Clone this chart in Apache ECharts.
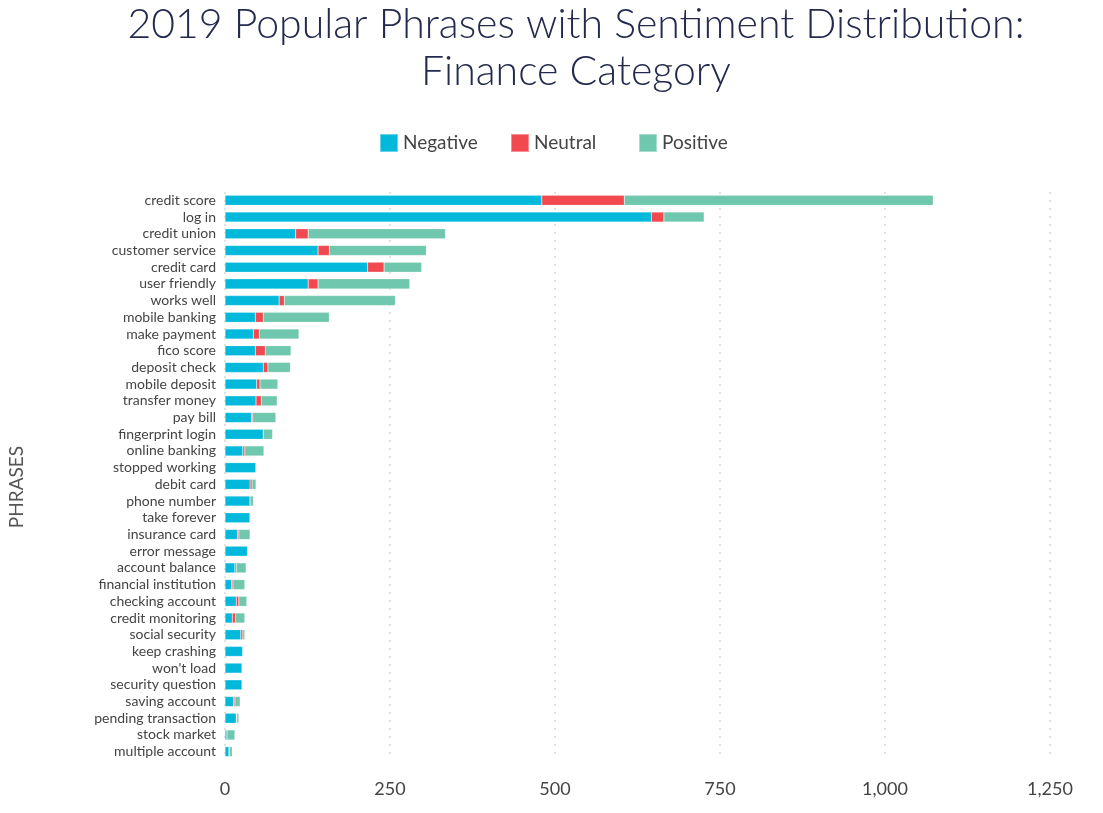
<!DOCTYPE html>
<html>
<head>
<meta charset="utf-8">
<script src="https://cdn.jsdelivr.net/npm/echarts@6/dist/echarts.min.js"></script>
<style>
  html, body { margin: 0; padding: 0; background: #fff; }
  #container { width: 1103px; height: 813px; }
</style>
</head>
<body>
<div id="container"></div>
<script>
var phrases = ['credit score', 'log in', 'credit union', 'customer service', 'credit card',
    'user friendly', 'works well', 'mobile banking', 'make payment', 'fico score',
    'deposit check', 'mobile deposit', 'transfer money', 'pay bill', 'fingerprint login',
    'online banking', 'stopped working', 'debit card', 'phone number', 'take forever',
    'insurance card', 'error message', 'account balance', 'financial institution',
    'checking account', 'credit monitoring', 'social security', 'keep crashing',
    "won't load", 'security question', 'saving account', 'pending transaction',
    'stock market', 'multiple account'];
var negative = [480, 646, 107, 141, 216, 126, 82, 46, 43, 46, 58, 48, 47, 40, 58, 27, 47, 38, 38, 38,
    19, 34, 15, 10, 17, 11, 24, 27, 26, 26, 13, 17, 3, 6];
var neutral = [125, 19, 19, 17, 25, 15, 8, 12, 9, 15, 7, 5, 8, 2, 0, 3, 0, 3, 0, 0,
    2, 0, 2, 2, 4, 5, 3, 0, 0, 0, 2, 1, 0, 1];
var positive = [468, 61, 208, 147, 57, 139, 168, 100, 60, 39, 34, 27, 24, 35, 14, 29, 0, 6, 5, 0,
    17, 0, 15, 18, 12, 14, 3, 0, 0, 0, 8, 3, 12, 4];
var xTicks = [0, 250, 500, 750, 1000, 1250];

var dom = document.getElementById('container');
var myChart = echarts.init(dom);

var colors = ['#02b9db', '#f2484f', '#6fc7ad'];
var names = ['Negative', 'Neutral', 'Positive'];
var values = [negative, neutral, positive];
var legendLeft = [374, 505, 633];

var legends = names.map(function(n, i) {
    return {
        data: [n],
        left: legendLeft[i],
        top: 128,
        itemWidth: 18,
        itemHeight: 18,
        itemGap: 10,
        icon: 'rect',
        textStyle: { fontFamily: 'Lato', fontSize: 19, color: '#444' }
    };
});

var series = names.map(function(n, i) {
    return {
        name: n,
        type: 'bar',
        stack: 'total',
        barCategoryGap: '40%',
        itemStyle: { color: colors[i], borderColor: 'rgba(255,255,255,0.4)', borderWidth: 0.5 },
        data: values[i]
    };
});

var option = {
    animation: false,
    color: colors,
    title: {
        text: '2019 Popular Phrases with Sentiment Distribution:\nFinance Category',
        left: 571,
        textAlign: 'center',
        top: -4,
        textStyle: {
            fontFamily: 'Lato',
            fontWeight: 300,
            fontSize: 41,
            lineHeight: 47,
            color: '#232a4d'
        }
    },
    legend: legends,
    graphic: [{
        type: 'text',
        x: 17,
        y: 487,
        rotation: Math.PI / 2,
        style: {
            text: 'PHRASES',
            fontFamily: 'Lato',
            fontSize: 19,
            fill: '#555',
            align: 'center',
            verticalAlign: 'middle'
        }
    }],
    grid: {
        left: 225,
        right: 53,
        top: 192,
        height: 568
    },
    xAxis: {
        type: 'value',
        min: 0,
        max: 1250,
        interval: 250,
        axisLine: { show: false },
        axisTick: { show: false },
        axisLabel: {
            fontFamily: 'Lato',
            fontSize: 18,
            color: '#444',
            margin: 20,
            formatter: function(v) {
                return xTicks.indexOf(v) >= 0 ? v.toLocaleString('en-US') : '';
            }
        },
        splitLine: {
            show: true,
            lineStyle: { color: '#d8d8d8', type: [2, 6], width: 1.5 }
        }
    },
    yAxis: {
        type: 'category',
        inverse: true,
        data: phrases,
        axisLine: { show: false },
        axisTick: { show: false },
        axisLabel: { fontFamily: 'Lato', fontSize: 14, color: '#444', margin: 9, interval: 0 }
    },
    series: series
};

myChart.setOption(option, true);
</script>
</body>
</html>
